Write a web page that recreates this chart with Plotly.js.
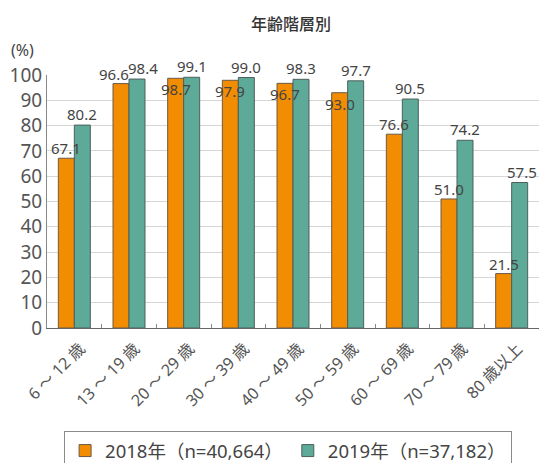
<!DOCTYPE html>
<html>
<head>
<meta charset="utf-8">
<script src="https://cdn.plot.ly/plotly-3.0.1.min.js"></script>
<style>html,body{margin:0;padding:0;background:#fff;}</style>
</head>
<body>
<div id="chart" style="width:539px;height:463px;"></div>
<script>
// ---- data ----
var categories = ["6 ～ 12 歳", "13 ～ 19 歳", "20 ～ 29 歳", "30 ～ 39 歳", "40 ～ 49 歳", "50 ～ 59 歳", "60 ～ 69 歳", "70 ～ 79 歳", "80 歳以上"];
var values2018 = [67.1, 96.6, 98.7, 97.9, 96.7, 93.0, 76.6, 51.0, 21.5];
var values2019 = [80.2, 98.4, 99.1, 99.0, 98.3, 97.7, 90.5, 74.2, 57.5];
var seriesNames = ["2018年（n=40,664）", "2019年（n=37,182）"];
var yTicks = [0, 10, 20, 30, 40, 50, 60, 70, 80, 90, 100];
var chartTitle = "年齢階層別";
var unitLabel = "(%)";

// ---- label placement (style, not data) ----
var pos2018 = ["out", "out", "in", "in", "in", "in", "out", "out", "out"];
var dx2018 = [0, -7, 0, 0, 0, 0, 0, 0, 0];
var dx2019 = [0, 6, 0, 0, 0, 0, 0, 0, 2];

var FONT = "'Noto Sans', 'Noto Sans CJK JP', sans-serif";
var TXT = "#444";
var barOff = 8;

var annotations = [];
categories.forEach(function (c, i) {
  var inside = pos2018[i] === "in";
  annotations.push({
    x: c, y: values2018[i], xref: "x", yref: "y",
    text: values2018[i].toFixed(1), showarrow: false,
    xshift: -barOff + dx2018[i], yshift: inside ? 1 : -2,
    yanchor: inside ? "top" : "bottom",
    font: {family: FONT, size: 15, color: TXT}
  });
  annotations.push({
    x: c, y: values2019[i], xref: "x", yref: "y",
    text: values2019[i].toFixed(1), showarrow: false,
    xshift: barOff + dx2019[i], yshift: -1,
    yanchor: "bottom",
    font: {family: FONT, size: 15, color: TXT}
  });
});
annotations.push({
  text: unitLabel, xref: "paper", yref: "paper", x: -0.05, y: 1.098,
  showarrow: false, xanchor: "center", yanchor: "middle",
  font: {family: FONT, size: 16, color: TXT}
});

var traces = [
  {type: "bar", name: seriesNames[0], x: categories, y: values2018,
   marker: {color: "#F28C00", line: {color: "#6b5a48", width: 1}}},
  {type: "bar", name: seriesNames[1], x: categories, y: values2019,
   marker: {color: "#5DAA98", line: {color: "#4f5f5a", width: 1}}}
];

var layout = {
  width: 539, height: 463,
  margin: {l: 47, r: 0, t: 75, b: 135},
  paper_bgcolor: "#fff", plot_bgcolor: "#fff",
  font: {family: FONT, color: TXT},
  title: {text: chartTitle, xref: "container", yref: "container", x: 0.54, y: 0.948,
          xanchor: "center", yanchor: "middle",
          font: {family: "'Noto Sans CJK JP', sans-serif", size: 16, color: "#333", weight: 500}},
  barmode: "group", bargap: 0.415, bargroupgap: 0,
  showlegend: true,
  legend: {orientation: "h", x: 0.49, xanchor: "center", xref: "paper",
           yref: "container", y: 0.069, yanchor: "top",
           bordercolor: "#8a8a8a", borderwidth: 1, bgcolor: "#fff",
           font: {family: FONT, size: 18.5, color: TXT}, traceorder: "normal"},
  xaxis: {type: "category", tickangle: -45, tickfont: {family: FONT, size: 16, color: "#555"},
          ticks: "inside", ticklen: 4, tickcolor: "#888", tickson: "boundaries",
          ticklabelstandoff: 4, ticklabelshift: 6, automargin: false,
          showline: true, linecolor: "#666", linewidth: 1, showgrid: false, fixedrange: true},
  yaxis: {range: [0, 100], tickvals: yTicks, ticks: "", showgrid: true, gridcolor: "#d6d6d6",
          gridwidth: 1, showline: true, linecolor: "#888", linewidth: 1, zeroline: false,
          automargin: false,
          tickfont: {family: FONT, size: 19, color: "#555"}, fixedrange: true},
  annotations: annotations
};

Plotly.newPlot("chart", traces, layout, {displayModeBar: false, staticPlot: true});
</script>
</body>
</html>
